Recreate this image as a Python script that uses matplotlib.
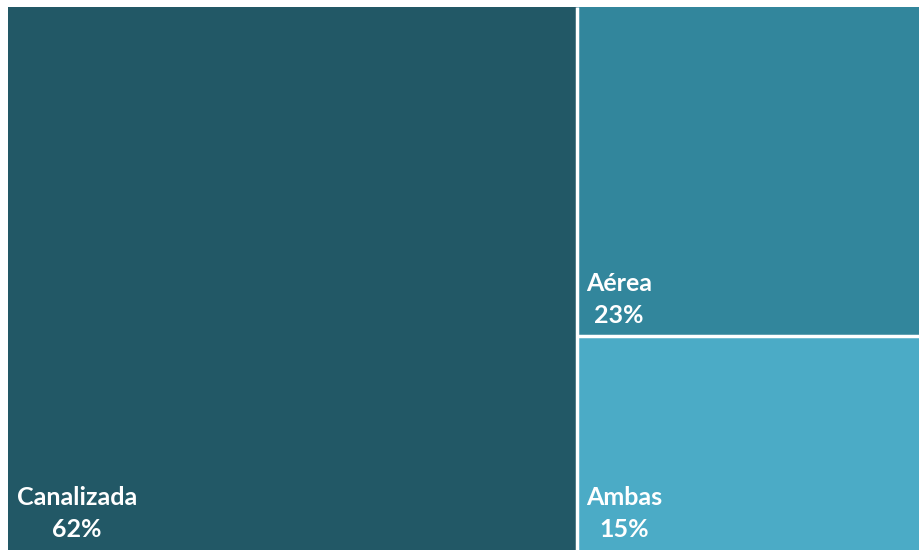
import matplotlib
matplotlib.use("Agg")
import matplotlib.pyplot as plt
from matplotlib.patches import Rectangle

categories = ["Canalizada", "Aérea", "Ambas"]
values = [62, 23, 15]
labels = ["62%", "23%", "15%"]
colors = ["#225866", "#32869C", "#4BABC6"]

W, H = 920, 550
fig = plt.figure(figsize=(W / 100, H / 100), dpi=100)
left, top, right, bottom = 8, 7, 926, 550
ax = fig.add_axes([left / W, (H - bottom) / H, (right - left) / W, (bottom - top) / H])
ax.set_xlim(0, 100)
ax.set_ylim(0, 100)
ax.axis("off")

total = sum(values)
w0 = values[0] / total * 100
rest = sum(values[1:])
h1 = values[1] / rest * 100
rects = [(0, 0, w0, 100),
         (w0, 100 - h1, 100 - w0, h1),
         (w0, 0, 100 - w0, 100 - h1)]

for (x, y, w, h), c, name, lab in zip(rects, colors, categories, labels):
    ax.add_patch(Rectangle((x, y), w, h, facecolor=c, edgecolor="none", clip_on=False))
    ax.annotate(f"{name}\n{lab}", xy=(x, y), xytext=(9, 9), textcoords="offset pixels",
                ha="left", va="bottom", multialignment="center", color="white",
                fontsize=18, fontweight="bold", family="Lato", linespacing=1.45)

# separators between tiles
ax.plot([w0, w0], [0, 100], color="white", lw=2.5, solid_capstyle="butt", clip_on=False)
ax.plot([w0, 100], [100 - h1, 100 - h1], color="white", lw=2.5, solid_capstyle="butt", clip_on=False)

fig.savefig("out.png", dpi=100)
